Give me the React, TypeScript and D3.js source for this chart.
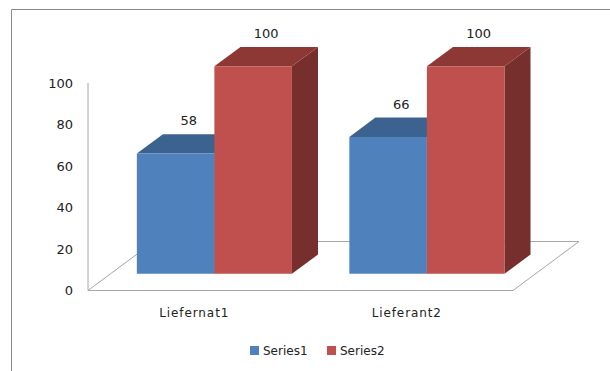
import React from "react";
import * as d3 from "d3";

const categories = ["Liefernat1", "Lieferant2"];
const seriesNames = ["Series1", "Series2"];
const series1 = [58, 66];
const series2 = [100, 100];
const yTicks = [0, 20, 40, 60, 80, 100];

const front = ["#4F81BD", "#C0504D"];
const topC = ["#3C6390", "#8E3836"];
const sideC = ["#345478", "#772F2E"];

const App = () => {
  const width = 610;
  const height = 371;

  // floor front edge and 3D depth vector
  const floorLeft = 88;
  const floorRight = 513;
  const depth = { dx: 66, dy: -49 };
  const d0 = 0.34;
  const d1 = 0.735;

  const y = d3.scaleLinear().domain([0, 100]).range([290.5, 83]);

  const x0 = d3.scaleBand().domain(categories).range([floorLeft, floorRight]).padding(0);
  const x1 = d3
    .scaleBand()
    .domain(seriesNames)
    .range([0, x0.bandwidth()])
    .paddingInner(0)
    .paddingOuter(0.37)
    .align(0.46);

  const values = [series1, series2];
  const proj = (x, v, d) => [x + d * depth.dx, y(v) + d * depth.dy];
  const poly = (pts) => pts.map((p) => p.join(",")).join(" ");

  const floor = [
    proj(floorLeft, 0, 0),
    proj(floorRight, 0, 0),
    proj(floorRight, 0, 1),
    proj(floorLeft, 0, 1),
  ];

  const bars = [];
  categories.forEach((c, ci) => {
    seriesNames.forEach((s, si) => {
      const v = values[si][ci];
      const xa = x0(c) + x1(s);
      const xb = xa + x1.bandwidth();
      bars.push({ key: c + s, si, v, xa, xb });
    });
  });

  const legendX = [250, 327];

  return (
    <svg
      width={width}
      height={height}
      style={{ position: "absolute", left: 0, top: 0, background: "#fff" }}
      fontFamily="DejaVu Sans, Verdana, sans-serif"
    >
      <path d={`M11.5,${height} V9.5 H${width}`} fill="none" stroke="#8a8a8a" />

      <polygon points={poly(floor)} fill="#fff" stroke="#a6a6a6" strokeWidth={1} />
      <line x1={floorLeft} x2={floorLeft} y1={y(100)} y2={y(0)} stroke="#a6a6a6" />

      {yTicks.map((t) => (
        <text
          key={t}
          x={73}
          y={y(t)}
          textAnchor="end"
          dominantBaseline="central"
          fontSize={13}
          fill="#222"
        >
          {t}
        </text>
      ))}

      {bars.map((b) => {
        const f = [proj(b.xa, b.v, d0), proj(b.xb, b.v, d0), proj(b.xb, 0, d0), proj(b.xa, 0, d0)];
        const tp = [proj(b.xa, b.v, d0), proj(b.xb, b.v, d0), proj(b.xb, b.v, d1), proj(b.xa, b.v, d1)];
        const sd = [proj(b.xb, b.v, d0), proj(b.xb, b.v, d1), proj(b.xb, 0, d1), proj(b.xb, 0, d0)];
        const [lx, ly] = proj((b.xa + b.xb) / 2, b.v, (d0 + d1) / 2);
        return (
          <g key={b.key}>
            <polygon points={poly(sd)} fill={sideC[b.si]} />
            <polygon points={poly(tp)} fill={topC[b.si]} />
            <polygon points={poly(f)} fill={front[b.si]} />
            <text
              x={lx}
              y={ly - 23}
              textAnchor="middle"
              dominantBaseline="central"
              fontSize={13}
              fill="#222"
            >
              {b.v}
            </text>
          </g>
        );
      })}

      {categories.map((c) => (
        <text
          key={c}
          x={x0(c) + x0.bandwidth() / 2}
          y={313}
          textAnchor="middle"
          dominantBaseline="central"
          fontSize={12}
          letterSpacing={0.9}
          fill="#222"
        >
          {c}
        </text>
      ))}

      {seriesNames.map((s, i) => (
        <g key={s} transform={`translate(${legendX[i]},346)`}>
          <rect width={9} height={9} fill={front[i]} />
          <text x={13} y={5} dominantBaseline="central" fontSize={12} fill="#222">
            {s}
          </text>
        </g>
      ))}
    </svg>
  );
};

export default App;
